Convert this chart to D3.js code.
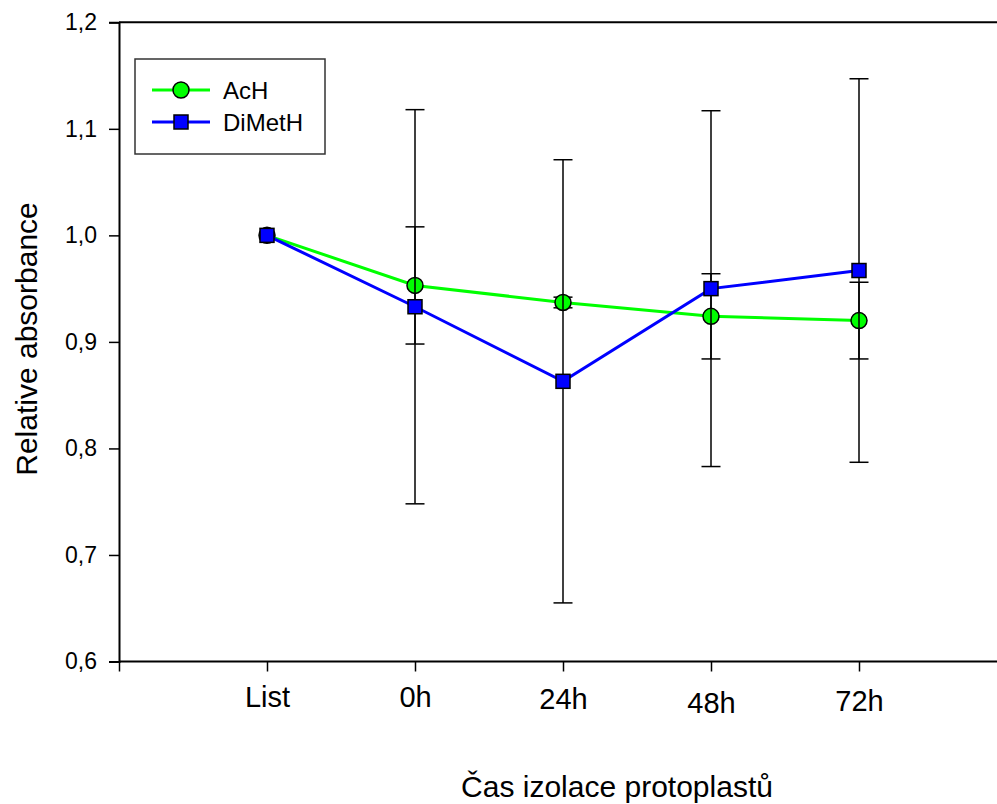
<!DOCTYPE html>
<html>
<head>
<meta charset="utf-8">
<script src="https://cdn.jsdelivr.net/npm/d3@7"></script>
<style>
  body { margin: 0; background: #fff; }
  svg { display: block; font-family: Arial, "Liberation Sans", sans-serif; }
</style>
</head>
<body>
<div id="box"></div>
<script>
// values
var categories = ["List", "0h", "24h", "48h", "72h"];
var achMean = [1.000, 0.953, 0.937, 0.924, 0.920];
var achErr = [0, 0.055, 0.005, 0.040, 0.036];
var dimethMean = [1.000, 0.933, 0.863, 0.950, 0.967];
var dimethErr = [0, 0.185, 0.208, 0.167, 0.180];
var yTicks = [0.6, 0.7, 0.8, 0.9, 1.0, 1.1, 1.2];

var width = 997, height = 804;

var svg = d3.select("#box")
    .append("svg")
    .attr("width", width)
    .attr("height", height);

// x positions: one empty slot left of "List"
var x = d3.scaleLinear().domain([-1, 5]).range([119, 1007]);
var y = d3.scaleLinear().domain([0.6, 1.2]).range([661.5, 22.3]);

var locale = d3.formatLocale({ decimal: ",", thousands: " ", grouping: [3], currency: ["", ""] });
var fmt = locale.format(".1f");

// top frame line
svg.append("line")
    .attr("x1", x(-1)).attr("x2", width)
    .attr("y1", y(1.2)).attr("y2", y(1.2))
    .attr("stroke", "#000").attr("stroke-width", 2);

// y axis
var yAxis = svg.append("g")
    .attr("transform", "translate(" + x(-1) + ",0)")
    .call(d3.axisLeft(y).tickValues(yTicks).tickSize(10).tickPadding(12).tickFormat(fmt));
yAxis.select(".domain").attr("stroke-width", 2);
yAxis.selectAll(".tick line").attr("stroke-width", 1.5);
yAxis.selectAll("text").attr("font-size", 23).attr("font-family", "Arial, 'Liberation Sans', sans-serif").attr("fill", "#000");

// x axis
var labelNudge = [0, 0, 2, 6, 4];
var xAxis = svg.append("g")
    .attr("transform", "translate(0," + y(0.6) + ")")
    .call(d3.axisBottom(x).tickValues([-1, 0, 1, 2, 3, 4]).tickSize(10).tickPadding(15)
        .tickFormat(function(d) { return d < 0 ? "" : categories[d]; }));
xAxis.select(".domain").attr("d", "M" + x(-1) + ",0H" + width).attr("stroke-width", 2);
xAxis.selectAll(".tick line").attr("stroke-width", 1.5);
xAxis.selectAll("text")
    .attr("font-size", 29)
    .attr("font-family", "Arial, 'Liberation Sans', sans-serif")
    .attr("fill", "#000")
    .attr("dy", function(d) { return d < 0 ? 0 : (0.71 * 29 + labelNudge[d]) + "px"; });

// axis titles
svg.append("text")
    .attr("transform", "translate(37,339) rotate(-90)")
    .attr("text-anchor", "middle")
    .attr("font-size", 30)
    .text("Relative absorbance");

svg.append("text")
    .attr("x", 617).attr("y", 797)
    .attr("text-anchor", "middle")
    .attr("font-size", 30)
    .text("Čas izolace protoplastů");

function errorBars(mean, err) {
    var g = svg.append("g").attr("stroke", "#000").attr("stroke-width", 1.5);
    mean.forEach(function(m, i) {
        if (!err[i]) return;
        var cx = x(i);
        g.append("line").attr("x1", cx).attr("x2", cx).attr("y1", y(m - err[i])).attr("y2", y(m + err[i]));
        g.append("line").attr("x1", cx - 9.5).attr("x2", cx + 9.5).attr("y1", y(m + err[i])).attr("y2", y(m + err[i]));
        g.append("line").attr("x1", cx - 9.5).attr("x2", cx + 9.5).attr("y1", y(m - err[i])).attr("y2", y(m - err[i]));
    });
}

var line = d3.line()
    .x(function(d, i) { return x(i); })
    .y(function(d) { return y(d); });

// AcH
errorBars(achMean, achErr);
svg.append("path")
    .datum(achMean)
    .attr("d", line)
    .attr("fill", "none")
    .attr("stroke", "#00ff00")
    .attr("stroke-width", 3);
svg.selectAll(".ach")
    .data(achMean)
    .enter()
    .append("circle")
    .attr("class", "ach")
    .attr("cx", function(d, i) { return x(i); })
    .attr("cy", function(d) { return y(d); })
    .attr("r", 8)
    .attr("fill", "#00ff00")
    .attr("stroke", "#000")
    .attr("stroke-width", 1.5);

// DiMetH
errorBars(dimethMean, dimethErr);
svg.append("path")
    .datum(dimethMean)
    .attr("d", line)
    .attr("fill", "none")
    .attr("stroke", "#0000ff")
    .attr("stroke-width", 3);
svg.selectAll(".dimeth")
    .data(dimethMean)
    .enter()
    .append("rect")
    .attr("class", "dimeth")
    .attr("x", function(d, i) { return x(i) - 7; })
    .attr("y", function(d) { return y(d) - 7; })
    .attr("width", 14)
    .attr("height", 14)
    .attr("fill", "#0000ff")
    .attr("stroke", "#000")
    .attr("stroke-width", 1.5);

// legend
var legend = svg.append("g");
legend.append("rect")
    .attr("x", 135).attr("y", 59)
    .attr("width", 190).attr("height", 95)
    .attr("fill", "#fff")
    .attr("stroke", "#333")
    .attr("stroke-width", 1.5);

var legendItems = [
    { name: "AcH", color: "#00ff00", shape: "circle" },
    { name: "DiMetH", color: "#0000ff", shape: "square" }
];
legendItems.forEach(function(item, i) {
    var ly = 90 + i * 32;
    legend.append("line")
        .attr("x1", 152).attr("x2", 210)
        .attr("y1", ly).attr("y2", ly)
        .attr("stroke", item.color).attr("stroke-width", 3);
    if (item.shape === "circle") {
        legend.append("circle")
            .attr("cx", 181).attr("cy", ly).attr("r", 8)
            .attr("fill", item.color).attr("stroke", "#000").attr("stroke-width", 1.5);
    } else {
        legend.append("rect")
            .attr("x", 174).attr("y", ly - 7).attr("width", 14).attr("height", 14)
            .attr("fill", item.color).attr("stroke", "#000").attr("stroke-width", 1.5);
    }
    legend.append("text")
        .attr("x", 223).attr("y", ly + 8.5)
        .attr("font-size", 24)
        .text(item.name);
});
</script>
</body>
</html>
